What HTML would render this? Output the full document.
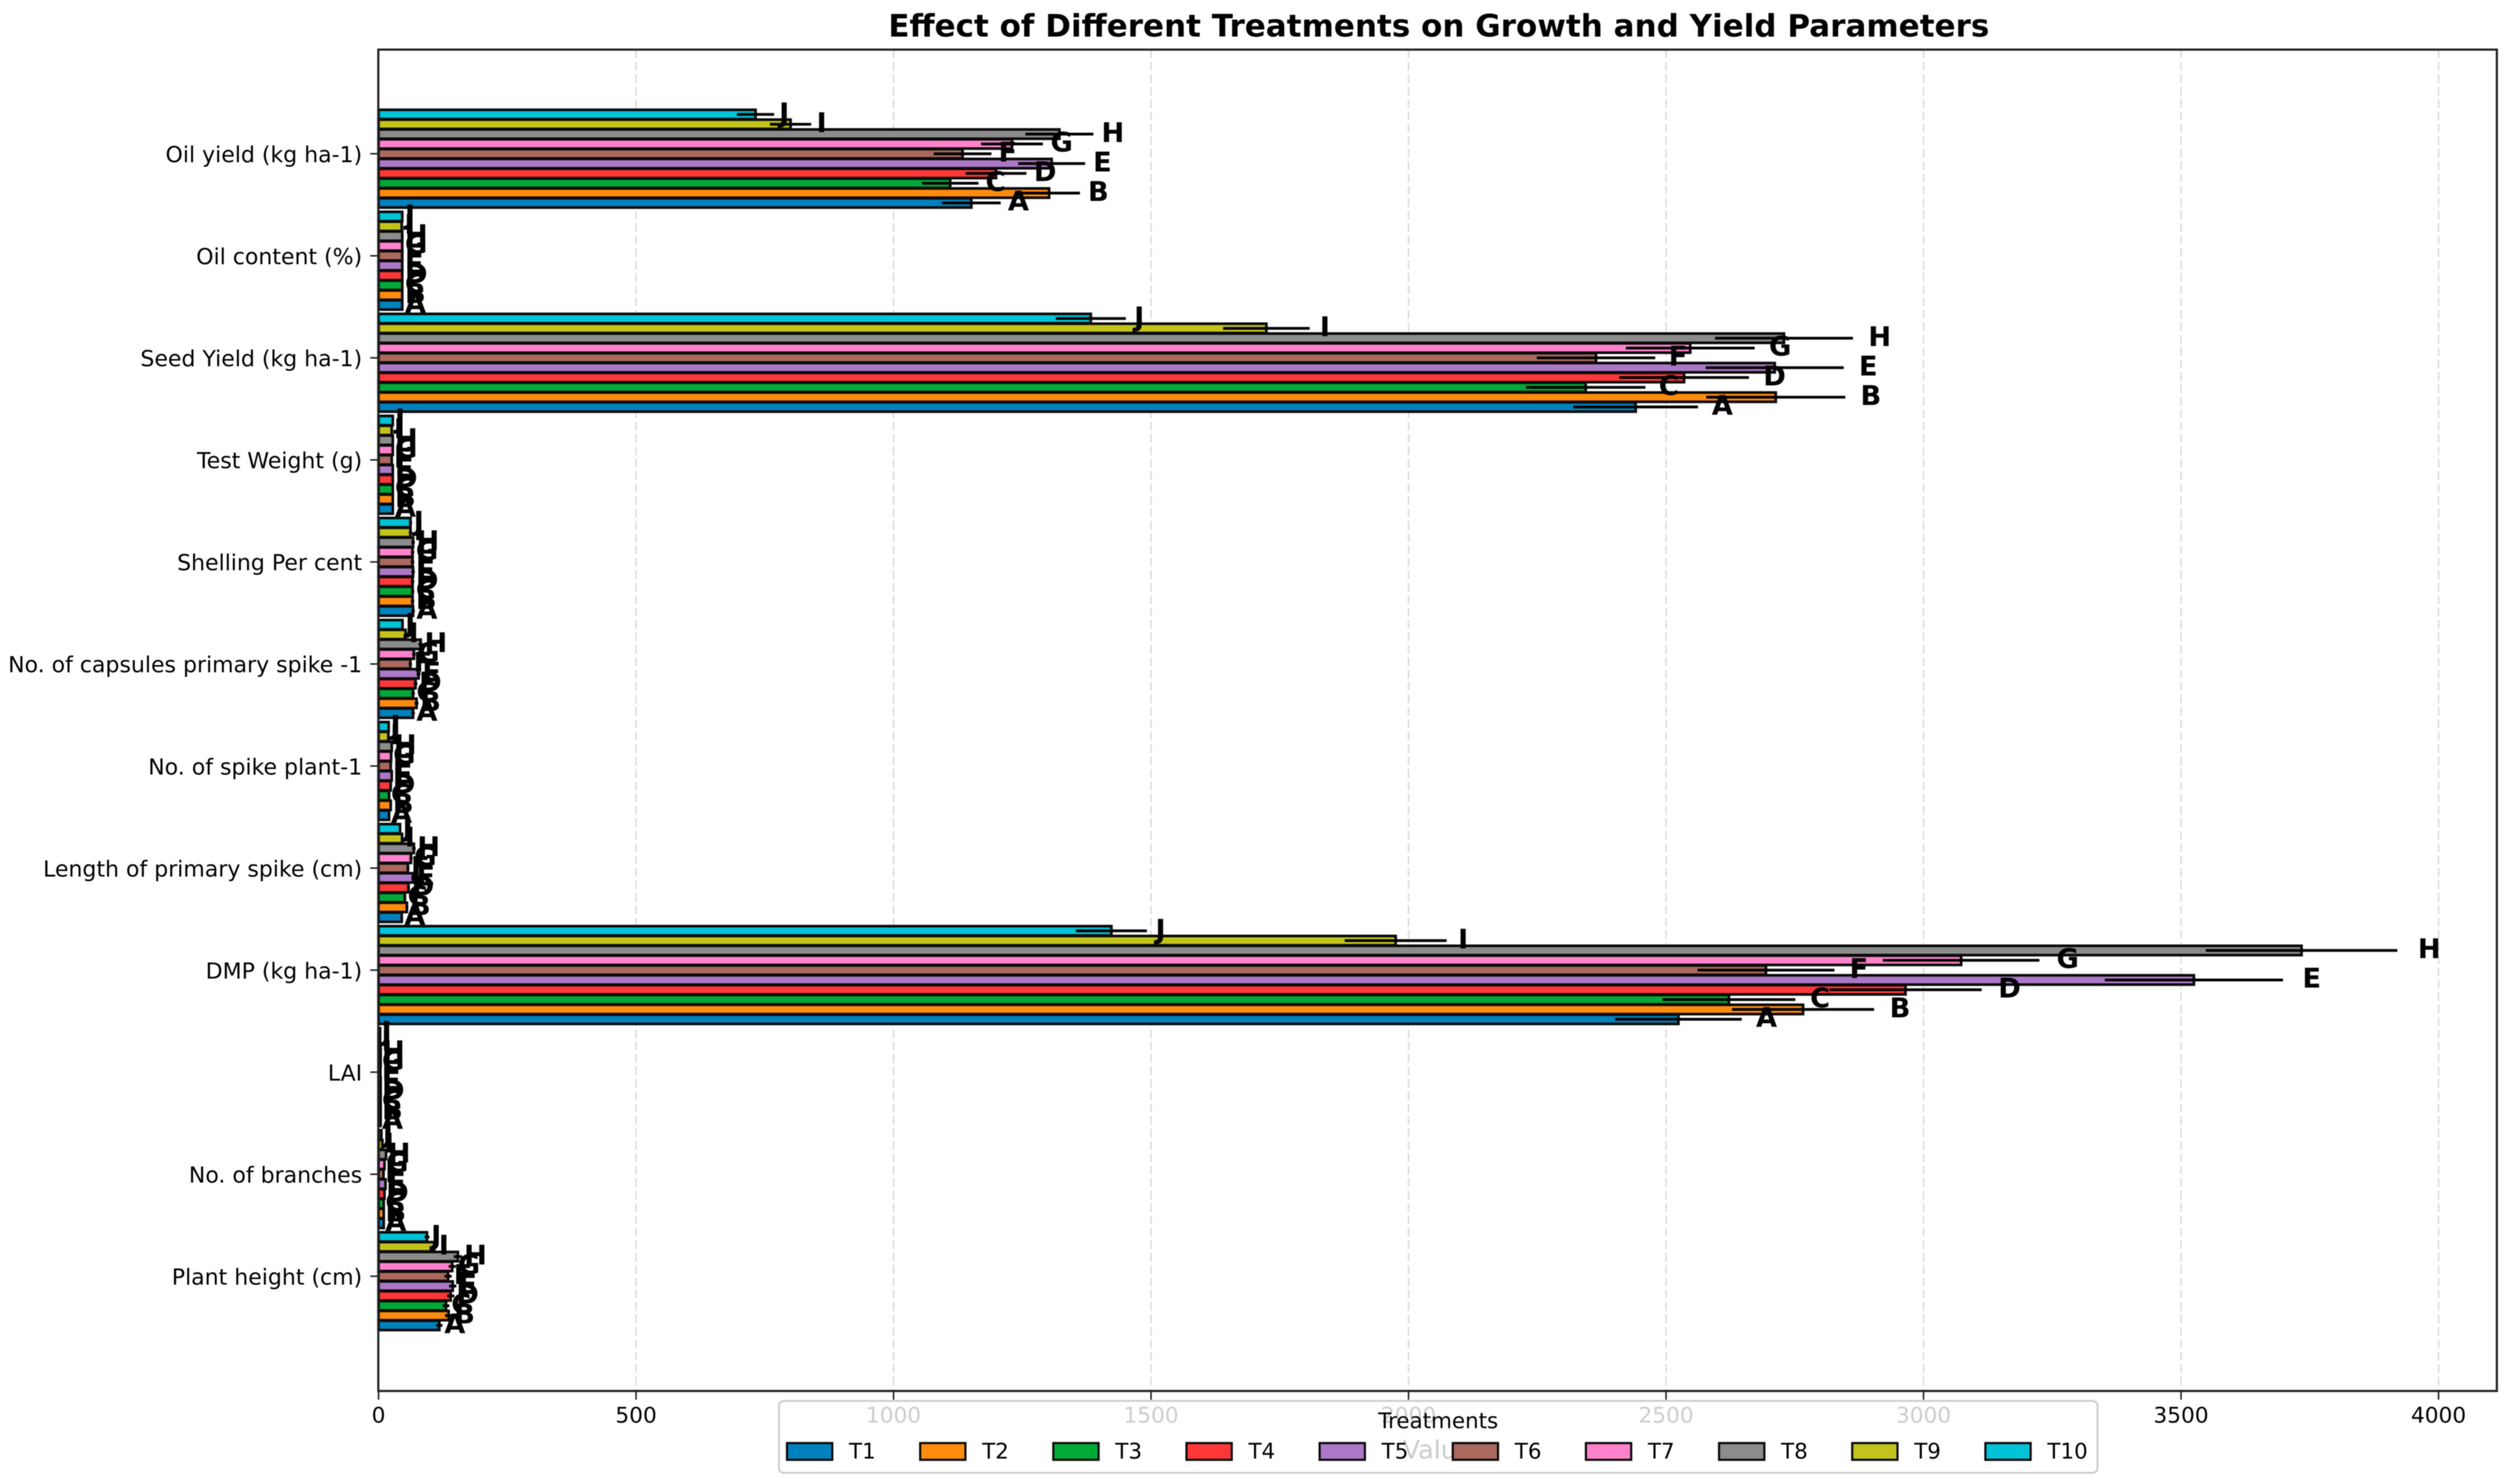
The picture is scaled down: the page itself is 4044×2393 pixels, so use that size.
<!DOCTYPE html>
<html lang="en">
<head>
<meta charset="utf-8">
<title>Effect of Different Treatments on Growth and Yield Parameters</title>
<style>
html,body{margin:0;padding:0;background:#fff}
svg{display:block;filter:blur(0.8px)}
text{font-family:"DejaVu Sans","Liberation Sans",sans-serif;fill:#000}
</style>
</head>
<body>
<svg id="chart" xmlns="http://www.w3.org/2000/svg" width="4044" height="2393" viewBox="0 0 4044 2393">
  <rect x="0" y="0" width="4044" height="2393" fill="#fff"/>
  <g id="grid"></g>
  <g id="bars"></g>
  <g id="errors"></g>
  <g id="labels"></g>
  <rect x="610" y="80" width="3416" height="2163" fill="none" stroke="#222" stroke-width="3.5"/>
  <g id="yticks"></g>
  <g id="xticks"></g>
  <text x="2318" y="2338" font-size="41" text-anchor="middle" dominant-baseline="central">Value</text>
  <text x="2320" y="42" font-size="50" font-weight="700" text-anchor="middle" dominant-baseline="central">Effect of Different Treatments on Growth and Yield Parameters</text>
  <rect x="1256" y="2259" width="2126" height="116" rx="8" ry="8" fill="#fff" fill-opacity="0.8" stroke="#ccc" stroke-width="3"/>
  <text x="2319" y="2292" font-size="34.5" text-anchor="middle" dominant-baseline="central">Treatments</text>
  <g id="legend"></g>
</svg>
<script>
const categories = ["Plant height (cm)", "No. of branches", "LAI", "DMP (kg ha-1)", "Length of primary spike (cm)", "No. of spike plant-1", "No. of capsules primary spike -1", "Shelling Per cent", "Test Weight (g)", "Seed Yield (kg ha-1)", "Oil content (%)", "Oil yield (kg ha-1)"];
const treatments = ["T1", "T2", "T3", "T4", "T5", "T6", "T7", "T8", "T9", "T10"];
const letters = ["A", "B", "C", "D", "E", "F", "G", "H", "I", "J"];
const xTickValues = [0, 500, 1000, 1500, 2000, 2500, 3000, 3500, 4000];

const t1Values = [118, 10, 4, 2524, 45, 20.4, 67, 67, 27.6, 2441, 46, 1151];
const t2Values = [136, 10, 4, 2766, 55, 23.6, 73.8, 66, 27.6, 2713, 46, 1302];
const t3Values = [131, 10, 4, 2622, 51, 20.4, 67, 66, 27.6, 2344, 46, 1110];
const t4Values = [140, 11.5, 4, 2965, 58, 23.6, 71.8, 66, 27.6, 2535, 46, 1199];
const t5Values = [144, 13.5, 4, 3525, 67, 25.6, 77.8, 67, 27.6, 2711, 46, 1307];
const t6Values = [135, 9.6, 3.5, 2694, 57, 23.6, 61.8, 66, 25.6, 2364, 46, 1134];
const t7Values = [143, 11.5, 4, 3073, 63, 24.4, 68.6, 66, 27.6, 2547, 46, 1230];
const t8Values = [154, 14.5, 4, 3734, 68.6, 25.6, 81.8, 67, 27.6, 2729, 46, 1322];
const t9Values = [108, 7.5, 3, 1975, 45.7, 19, 52.5, 62, 25.6, 1724, 45, 800];
const t10Values = [94, 5.5, 3, 1423, 41.7, 19.6, 46.5, 62, 27.6, 1383, 46, 732];

const t1Errors = [6, 0.5, 0.2, 123, 2.2, 1, 3.4, 3.4, 1.4, 121, 2.3, 57];
const t2Errors = [7, 0.5, 0.2, 138, 2.8, 1.2, 3.7, 3.3, 1.4, 135, 2.3, 60];
const t3Errors = [6.5, 0.5, 0.2, 129, 2.5, 1, 3.4, 3.3, 1.4, 116, 2.3, 55];
const t4Errors = [7, 0.6, 0.2, 148, 2.9, 1.2, 3.6, 3.3, 1.4, 126, 2.3, 59];
const t5Errors = [7, 0.7, 0.2, 173, 3.4, 1.3, 3.9, 3.4, 1.4, 134, 2.3, 65];
const t6Errors = [7, 0.5, 0.2, 133, 2.9, 1.2, 3.1, 3.3, 1.3, 115, 2.3, 56];
const t7Errors = [7, 0.6, 0.2, 152, 3.2, 1.2, 3.4, 3.3, 1.4, 125, 2.3, 60];
const t8Errors = [8, 0.7, 0.2, 186, 3.4, 1.3, 4.1, 3.4, 1.4, 134, 2.3, 66];
const t9Errors = [5.4, 0.4, 0.2, 99, 2.3, 1, 2.6, 3.1, 1.3, 84, 2.3, 40];
const t10Errors = [4.7, 0.3, 0.2, 69, 2.1, 1, 2.3, 3.1, 1.4, 68, 2.3, 36];

const colors = ["#0082be", "#ff8c0c", "#00aa37", "#ff3739", "#ac78c8", "#aa695f", "#ff82cd", "#8c8c8c", "#c3c31c", "#00c3d7"];

const seriesValues = [t1Values, t2Values, t3Values, t4Values, t5Values, t6Values, t7Values, t8Values, t9Values, t10Values];
const seriesErrors = [t1Errors, t2Errors, t3Errors, t4Errors, t5Errors, t6Errors, t7Errors, t8Errors, t9Errors, t10Errors];

const NS = "http://www.w3.org/2000/svg";
const plotLeft = 610.4, pxPerUnit = 0.8304, firstCategoryY = 2058, categoryPitch = 164.55, barPitch = 15.85, barHeight = 15;
function xScale(v) { return plotLeft + v * pxPerUnit; }
function yScale(c) { return firstCategoryY - c * categoryPitch; }
function barCenter(c, s) { return yScale(c) + (5 - s) * barPitch; }
function make(tag, parent, attrs) {
  const el = document.createElementNS(NS, tag);
  for (const k in attrs) el.setAttribute(k, attrs[k]);
  parent.appendChild(el);
  return el;
}
const gridG = document.getElementById("grid");
const barsG = document.getElementById("bars");
const errG = document.getElementById("errors");
const labG = document.getElementById("labels");
const yG = document.getElementById("yticks");
const xG = document.getElementById("xticks");
const legG = document.getElementById("legend");

xTickValues.forEach(function (t) {
  const x = xScale(t);
  const line = make("line", gridG, { x1: x, x2: x, y1: 80, y2: 2243, stroke: "#dcdcdc", "stroke-width": 2.5, "stroke-dasharray": "14 6" });
  
  
  const tick = make("line", xG, { x1: x, x2: x, y1: 2243, y2: 2257, stroke: "#222", "stroke-width": 2.5 });
  
  
  const label = make("text", xG, { x: x, y: 2283, "font-size": 35, "text-anchor": "middle", "dominant-baseline": "central" });
  
  
  label.textContent = String(t);
});

categories.forEach(function (name, c) {
  const y = yScale(c);
  const tick = make("line", yG, { x1: 597, x2: 610, y1: y, y2: y, stroke: "#222", "stroke-width": 2.5 });
  
  
  const label = make("text", yG, { x: 584, y: y + 2, "font-size": 35.5, "text-anchor": "end", "dominant-baseline": "central" });
  
  
  label.textContent = name;
});

treatments.forEach(function (tName, s) {
  categories.forEach(function (cName, c) {
    const v = seriesValues[s][c];
    const e = seriesErrors[s][c];
    const cy = barCenter(c, s);
    const bar = make("rect", barsG, { x: xScale(0), y: cy - barHeight / 2, width: Math.max(0, xScale(v) - xScale(0)), height: barHeight, fill: colors[s], stroke: "#0a0a0a", "stroke-width": 4.3 });
    
    
    const err = make("line", errG, { x1: xScale(v - e), x2: xScale(v + e), y1: cy, y2: cy, stroke: "#000", "stroke-width": 4.5 });
    
    
    const lab = make("text", labG, { x: xScale(v + e + v * 0.01) + 2, y: cy - 2, "font-size": 44, "font-weight": 700, "dominant-baseline": "central" });
    
    
    lab.textContent = letters[s];
  });
  const hx = 1269 + s * 214.7;
  const swatch = make("rect", legG, { x: hx, y: 2327, width: 73, height: 27, fill: colors[s], stroke: "#0a0a0a", "stroke-width": 3.5 });
  
  
  const txt = make("text", legG, { x: hx + 100, y: 2341, "font-size": 34.5, "dominant-baseline": "central" });
  
  
  txt.textContent = tName;
});
</script>
</body>
</html>
